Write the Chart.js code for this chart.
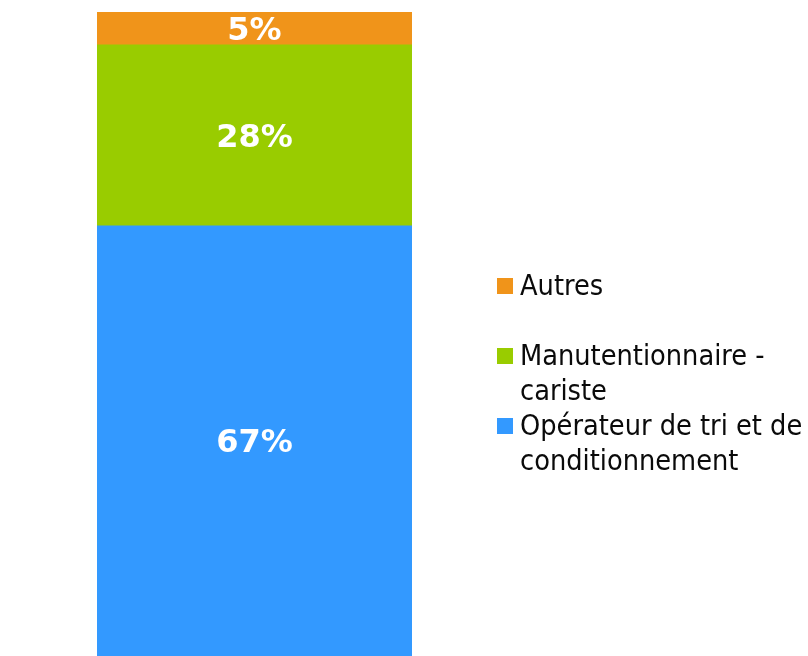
<!DOCTYPE html>
<html>
<head>
<meta charset="utf-8">
<script src="https://cdn.jsdelivr.net/npm/chart.js@4"></script>
<style>
  html, body { margin: 0; padding: 0; background: #fff; }
  #wrap { position: relative; width: 808px; height: 656px; }
  #legende { position: absolute; left: 497px; top: 268px; width: 311px;
    font-family: "DejaVu Sans Condensed", "DejaVu Sans", sans-serif; font-size: 28.6px; color: #0a0a0a; }
  .item { display: flex; align-items: flex-start; line-height: 35px; }
  .item:nth-child(2) { margin-top: 35px; }
  .carre { width: 16px; height: 16px; flex: none; margin-top: 10px; margin-right: 7px; }
  .texte { white-space: pre; }
</style>
</head>
<body>
<div id="wrap">
  <canvas id="graphique" width="808" height="656"></canvas>
  <div id="legende"></div>
</div>
<script>
const categories = [""];
const series = ["Opérateur de tri et de\nconditionnement", "Manutentionnaire -\ncariste", "Autres"];
const valeurs = [[66.8], [28.1], [5.1]];
const couleurs = ["#3399FF", "#99CC00", "#F0941A"];

const etiquettes = {
  id: "etiquettes",
  afterDatasetsDraw(chart) {
    const ctx = chart.ctx;
    ctx.save();
    ctx.fillStyle = "#fff";
    ctx.font = "bold 32px 'DejaVu Sans', Verdana, sans-serif";
    ctx.textAlign = "center";
    ctx.textBaseline = "middle";
    chart.data.datasets.forEach((ds, i) => {
      chart.getDatasetMeta(i).data.forEach((bar, j) => {
        const y = (bar.y + bar.base) / 2;
        ctx.fillText(Math.round(ds.data[j]) + "%", bar.x, y + 3);
      });
    });
    ctx.restore();
  }
};

new Chart(document.getElementById("graphique").getContext("2d"), {
  type: "bar",
  data: {
    labels: categories,
    datasets: series.map((nom, i) => ({
      label: nom,
      data: valeurs[i],
      backgroundColor: couleurs[i],
      borderWidth: 0,
      barPercentage: 1,
      categoryPercentage: 1,
    })),
  },
  options: {
    responsive: false,
    animation: false,
    layout: { padding: { left: 97, right: 396, top: 12, bottom: 0 } },
    scales: {
      x: { stacked: true, display: false },
      y: { stacked: true, display: false, min: 0, max: 100 },
    },
    plugins: { legend: { display: false }, tooltip: { enabled: false } },
  },
  plugins: [etiquettes],
});

// légende dans l'ordre inverse de la pile
const legende = document.getElementById("legende");
series.map((nom, i) => i).reverse().forEach((i) => {
  const item = document.createElement("div");
  item.className = "item";
  const carre = document.createElement("span");
  carre.className = "carre";
  carre.style.background = couleurs[i];
  const texte = document.createElement("span");
  texte.className = "texte";
  texte.textContent = series[i];
  item.appendChild(carre);
  item.appendChild(texte);
  legende.appendChild(item);
});
</script>
</body>
</html>
